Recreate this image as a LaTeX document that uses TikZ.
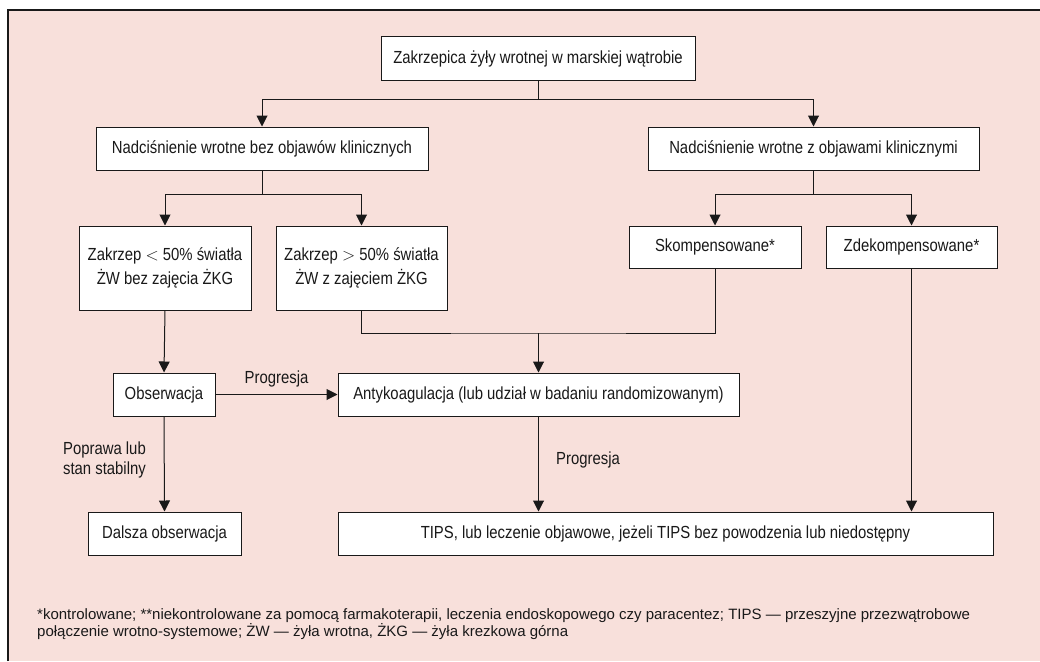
\documentclass[tikz,border=0pt]{standalone}
\usepackage{fontspec}
\setmainfont{Liberation Sans}[FakeStretch=0.85]
\newfontfamily\fnfont{Liberation Sans}
\usetikzlibrary{arrows.meta}
\definecolor{bgpink}{RGB}{248,224,219}
\definecolor{ink}{RGB}{25,25,25}
\begin{document}
\begin{tikzpicture}[x=1pt,y=-1pt,
  box/.style={draw=ink,fill=white,line width=1pt,inner sep=0pt,align=center,
    font=\fontsize{17.5}{23.5}\selectfont,text=ink},
  conn/.style={draw=ink,line width=1pt},
  arr/.style={conn,-{Triangle[length=11pt,width=11pt]}},
  lbl/.style={font=\fontsize{17.5}{20}\selectfont,text=ink,inner sep=0pt}]
\useasboundingbox (0,0) rectangle (1040,661);
\fill[white] (0,0) rectangle (1040,661);
\fill[bgpink] (8,10) rectangle (1040,661);
\draw[ink,line width=1.4pt] (8,661) -- (8,10) -- (1040,10);

\node[box,minimum width=314pt,minimum height=43pt] (top) at (538,58.5) {Zakrzepica żyły wrotnej w marskiej wątrobie};
\node[box,minimum width=332pt,minimum height=43pt] (nbez) at (262,148.5) {Nadciśnienie wrotne bez objawów klinicznych};
\node[box,minimum width=331pt,minimum height=43pt] (nz) at (813.5,148.5) {Nadciśnienie wrotne z objawami klinicznymi};
\node[box,minimum width=172pt,minimum height=84pt] (z1) at (165,268) {Zakrzep $<$ 50\% światła\\ŻW bez zajęcia ŻKG};
\node[box,minimum width=171pt,minimum height=84pt] (z2) at (361.5,268) {Zakrzep $>$ 50\% światła\\ŻW z zajęciem ŻKG};
\node[box,minimum width=172pt,minimum height=42pt] (sk) at (715,247) {Skompensowane*};
\node[box,minimum width=171pt,minimum height=42pt] (zd) at (911.5,247) {Zdekompensowane*};
\node[box,minimum width=102pt,minimum height=43pt] (obs) at (164,394.5) {Obserwacja};
\node[box,minimum width=401pt,minimum height=43pt] (anty) at (538.5,394.5) {Antykoagulacja (lub udział w badaniu randomizowanym)};
\node[box,minimum width=153pt,minimum height=43pt] (dal) at (164.5,533.5) {Dalsza obserwacja};
\node[box,minimum width=655pt,minimum height=43pt] (tips) at (665.5,533.5) {TIPS, lub leczenie objawowe, jeżeli TIPS bez powodzenia lub niedostępny};

\coordinate (j1) at (538,99);
\coordinate (j2) at (262,194);
\coordinate (j3) at (813.5,194);
\coordinate (j4) at (538.5,333);

\draw[conn] (top.south) -- (j1);
\draw[arr] (j1) -| (nbez.north);
\draw[arr] (j1) -| (nz.north);
\draw[conn] (nbez.south) -- (j2);
\draw[arr] (j2) -| (z1.north);
\draw[arr] (j2) -| (z2.north);
\draw[conn] (nz.south) -- (j3);
\draw[arr] (j3) -| (sk.north);
\draw[arr] (j3) -| (zd.north);
\draw[conn] (z2.south) |- (j4) -| (sk.south);
\draw[arr] (j4) -- (anty.north);
\draw[arr] (z1.south) -- (obs.north);
\draw[arr] (obs.east) -- node[lbl,above=7pt] (p1) {Progresja} (anty.west);
\draw[arr] (obs.south) -- (dal.north);
\node[lbl,align=left,anchor=east] (pop) at (146,460) {Poprawa lub\\stan stabilny};
\draw[arr] (anty.south) -- (anty.south |- tips.north);
\node[lbl,anchor=west] (p2) at (556,460) {Progresja};
\draw[arr] (zd.south) -- (zd.south |- tips.north);

\node[anchor=base west,align=left,inner sep=0pt,text=ink,font=\fnfont\fontsize{15}{17}\selectfont] (fn) at (37,636)
 {*kontrolowane; **niekontrolowane za pomocą farmakoterapii, leczenia endoskopowego czy paracentez; TIPS — przeszyjne przezwątrobowe\\
 połączenie wrotno-systemowe; ŻW — żyła wrotna, ŻKG — żyła krezkowa górna};
\end{tikzpicture}
\end{document}
